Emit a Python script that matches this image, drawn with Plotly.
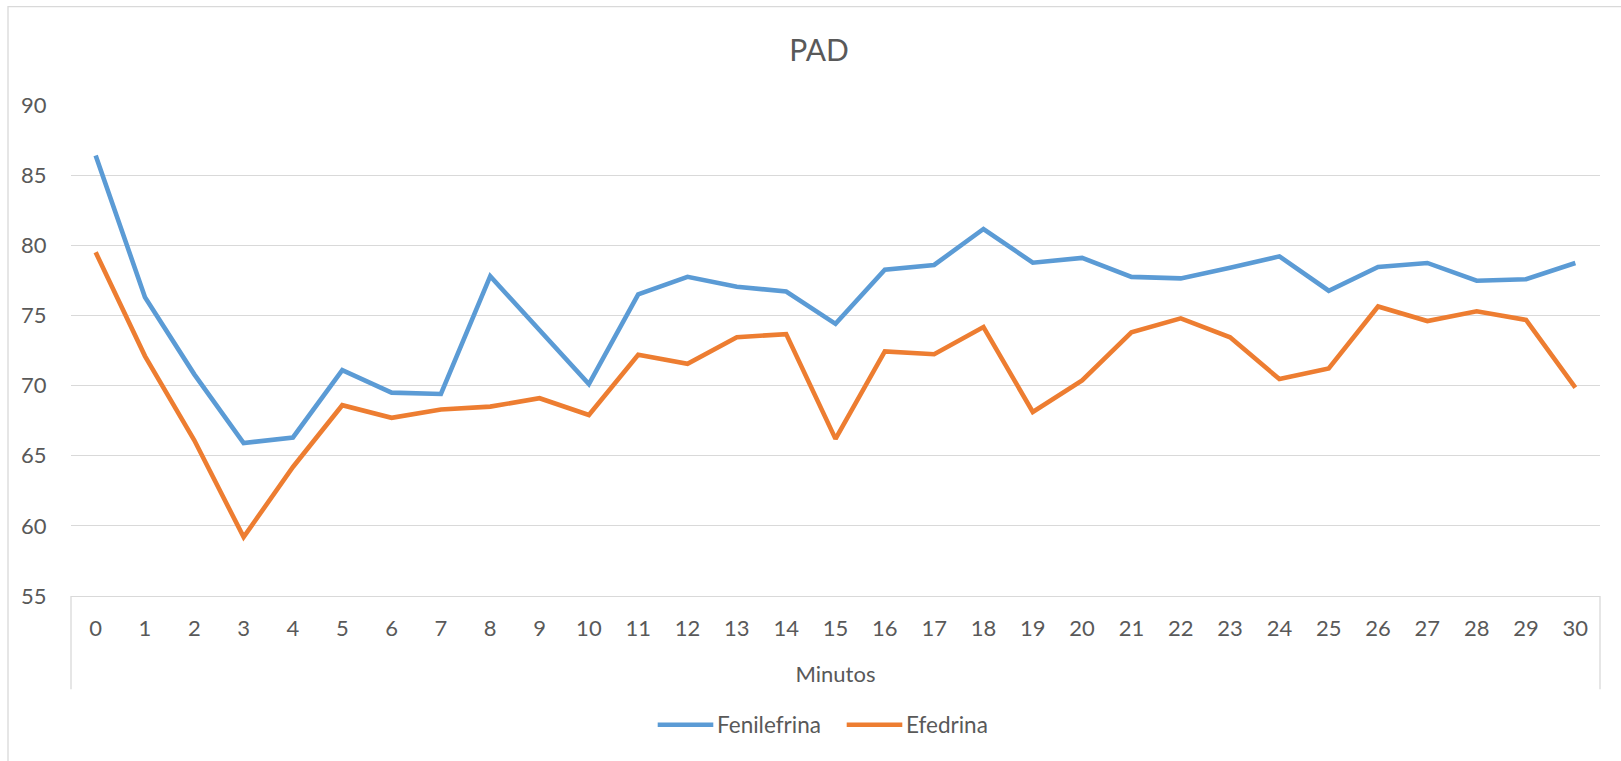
import plotly.graph_objects as go

minutos = [str(i) for i in range(31)]
fenilefrina = [86.4, 76.3, 70.8, 65.9, 66.3, 71.1, 69.5, 69.4, 77.8, 74.0,
               70.1, 76.5, 77.75, 77.05, 76.7, 74.4, 78.26, 78.6, 81.16, 78.76,
               79.1, 77.75, 77.64, 78.4, 79.21, 76.76, 78.45, 78.74, 77.47, 77.58, 78.74]
efedrina = [79.5, 72.1, 66.1, 59.2, 64.2, 68.6, 67.7, 68.3, 68.5, 69.1,
            67.9, 72.2, 71.55, 73.44, 73.67, 66.2, 72.43, 72.23, 74.17, 68.12,
            70.37, 73.8, 74.79, 73.44, 70.46, 71.22, 75.64, 74.6, 75.3, 74.68, 69.86]
y_ticks = [55, 60, 65, 70, 75, 80, 85, 90]
series_names = ["Fenilefrina", "Efedrina"]
series_colors = ["#5B9BD5", "#ED7D31"]

W, H = 1621, 761
L, R, T, B = 71, 1600, 104.5, 596.5

def px_x(p):
    return (p - L) / (R - L)

def px_y(p):
    return (B - p) / (B - T)

fig = go.Figure()
for name, vals, col in zip(series_names, [fenilefrina, efedrina], series_colors):
    fig.add_trace(go.Scatter(x=minutos, y=vals, mode="lines", name=name,
                             line=dict(color=col, width=4.6)))

font_family = "Lato, 'Open Sans', sans-serif"
txt = "#595959"
grid = "#D9D9D9"
fs = 22

# legend drawn as shapes + text (Excel-style long swatches)
leg_y = px_y(725.5)
leg_items = [(657.7, 713.3, 714.5), (846.7, 902.3, 903.5)]
shapes = []
annotations = []
for (x0, x1, tx), name, col in zip(leg_items, series_names, series_colors):
    shapes.append(dict(type="line", xref="paper", yref="paper", x0=px_x(x0), x1=px_x(x1),
                       y0=leg_y, y1=leg_y, line=dict(color=col, width=4.6)))
    annotations.append(dict(text=name, xref="paper", yref="paper", x=px_x(tx), y=leg_y,
                            xanchor="left", yanchor="middle", showarrow=False,
                            font=dict(size=22.5, color=txt, family=font_family)))

shapes += [
    dict(type="line", xref="paper", yref="paper", x0=0, x1=0, y0=0, y1=px_y(690),
         line=dict(color=grid, width=1.3)),
    dict(type="line", xref="paper", yref="paper", x0=1, x1=1, y0=0, y1=px_y(690),
         line=dict(color=grid, width=1.3)),
    dict(type="rect", xref="paper", yref="paper", x0=px_x(8), x1=px_x(1700),
         y0=px_y(900), y1=px_y(6), line=dict(color=grid, width=1.3),
         fillcolor="rgba(0,0,0,0)", layer="below"),
]

fig.update_layout(
    width=W, height=H,
    margin=dict(l=L, r=W - R, t=T, b=H - B, autoexpand=False),
    paper_bgcolor="white", plot_bgcolor="white",
    font=dict(family=font_family, color=txt, size=fs),
    title=dict(text="PAD", x=819 / W, xref="container", xanchor="center",
               y=1 - 50 / H, yref="container", yanchor="middle",
               font=dict(size=30, color=txt, family=font_family)),
    showlegend=False,
    xaxis=dict(type="category", range=[-0.5, 30.5], showgrid=False,
               showline=True, linecolor=grid, linewidth=1.3,
               ticks="outside", ticklen=12, tickcolor="rgba(0,0,0,0)",
               tickfont=dict(size=fs, color=txt), automargin=False,
               title=dict(text="Minutos", font=dict(size=fs, color=txt), standoff=27),
               zeroline=False, fixedrange=True),
    yaxis=dict(range=[55, 90], tickvals=y_ticks, showgrid=True, gridcolor=grid,
               gridwidth=1.3, showline=False, zeroline=False,
               ticks="outside", ticklen=19, tickcolor="rgba(0,0,0,0)",
               tickfont=dict(size=fs, color=txt), automargin=False, fixedrange=True),
    shapes=shapes,
    annotations=annotations,
)

fig.write_html("out.html", config={"displayModeBar": False},
               post_script="document.body.style.margin='0';document.body.style.overflow='hidden';")
